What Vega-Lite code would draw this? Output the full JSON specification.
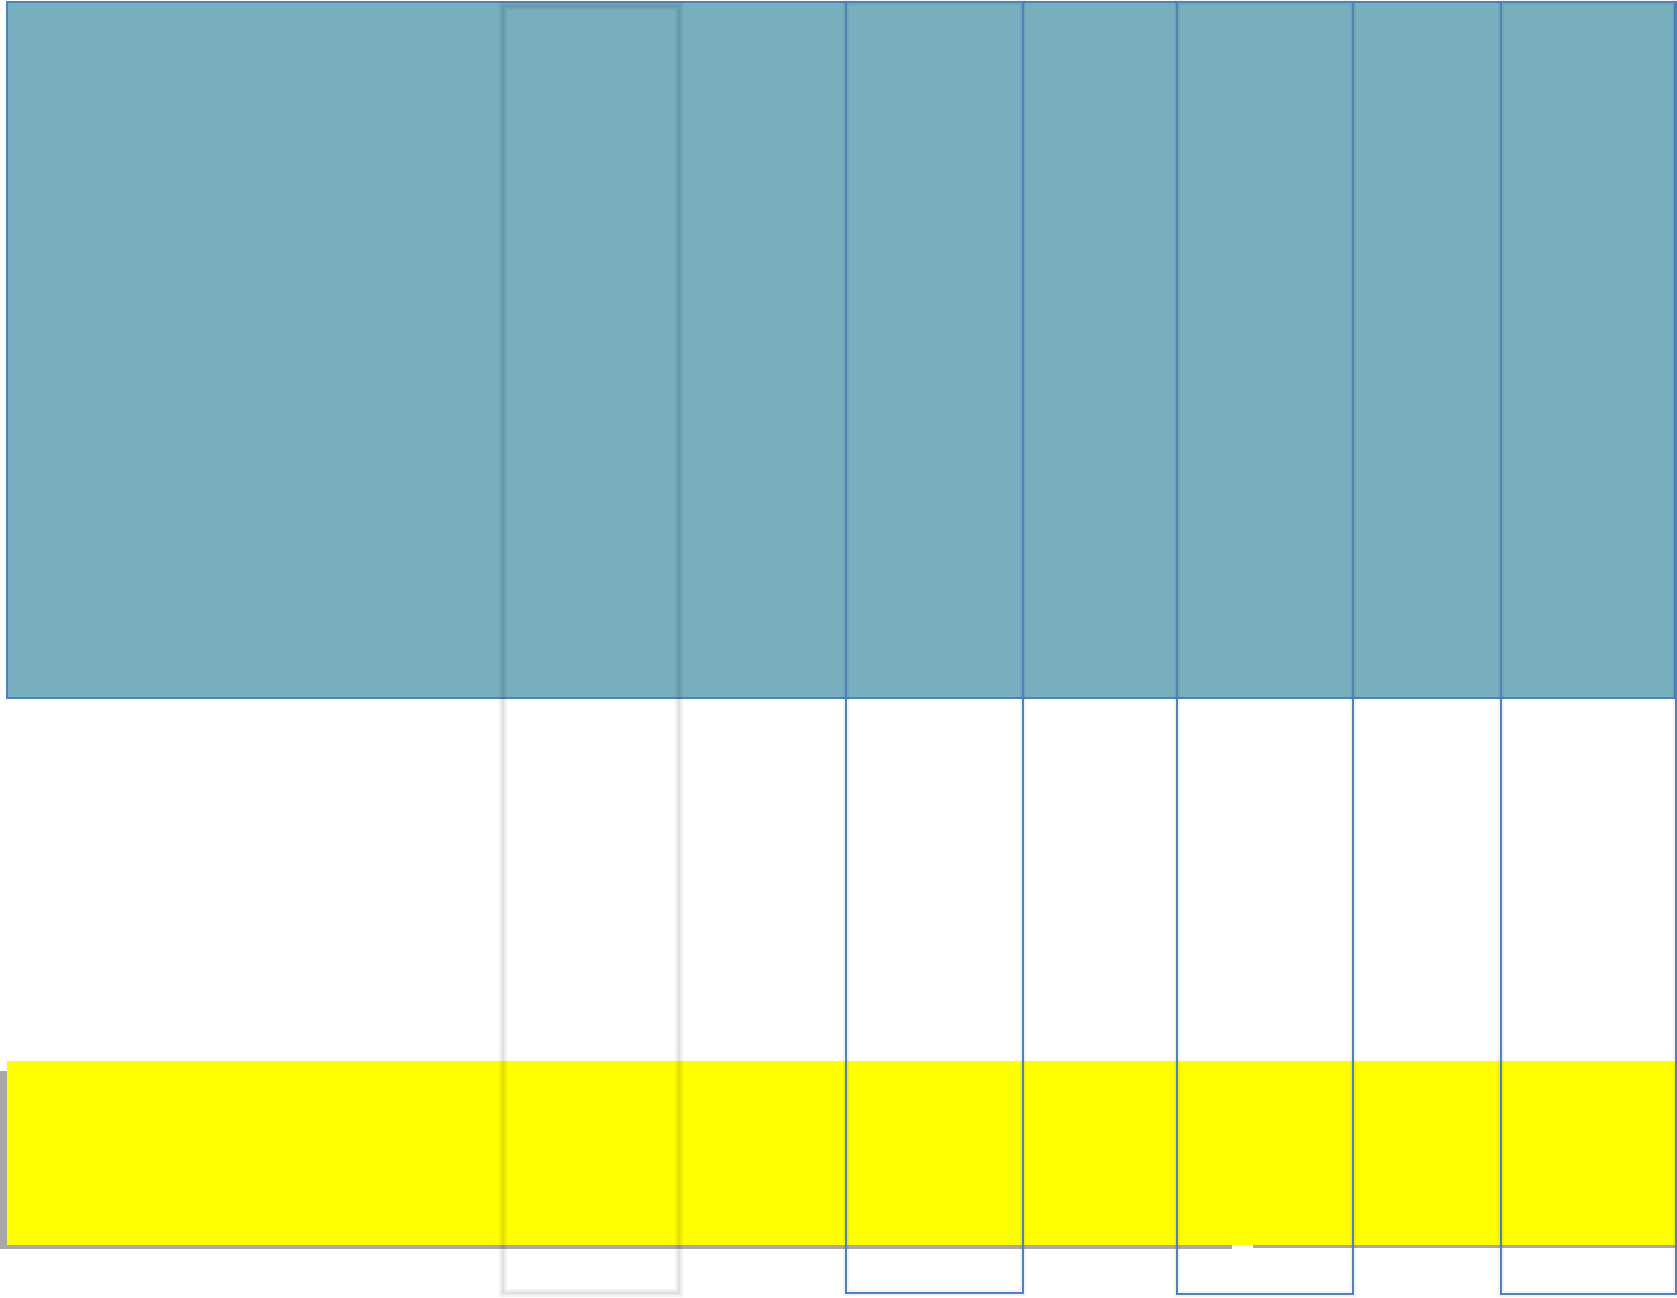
{
  "$schema": "https://vega.github.io/schema/vega-lite/v6.json",
  "width": 1677,
  "height": 1298,
  "padding": 0,
  "autosize": {"type": "none"},
  "background": "white",
  "config": {"view": {"stroke": null}},
  "data": {"values": [
    {"kind": "shadow", "x1": 0, "x2": 1232, "y1": 1071, "y2": 1249},
    {"kind": "shadow", "x1": 1253, "x2": 1675, "y1": 1240, "y2": 1248},
    {"kind": "teal", "x1": 7, "x2": 1675, "y1": 2, "y2": 698},
    {"kind": "yellow", "x1": 7, "x2": 1676, "y1": 1061, "y2": 1245},
    {"kind": "ghost", "x1": 503, "x2": 679, "y1": 6, "y2": 1293},
    {"kind": "blue", "x1": 846, "x2": 1023, "y1": 2, "y2": 1293},
    {"kind": "blue", "x1": 1177, "x2": 1353, "y1": 2, "y2": 1294},
    {"kind": "blue", "x1": 1501, "x2": 1676, "y1": 2, "y2": 1294}
  ]},
  "encoding": {
    "x": {"field": "x1", "type": "quantitative", "scale": {"domain": [0, 1677], "nice": false, "zero": false}, "axis": null},
    "x2": {"field": "x2"},
    "y": {"field": "y1", "type": "quantitative", "scale": {"domain": [0, 1298], "nice": false, "zero": false, "reverse": true}, "axis": null},
    "y2": {"field": "y2"}
  },
  "layer": [
    {"transform": [{"filter": "datum.kind == 'shadow'"}], "mark": {"type": "rect", "fill": "#a8a8a8", "stroke": null}},
    {"transform": [{"filter": "datum.kind == 'teal'"}], "mark": {"type": "rect", "fill": "#78AFBE", "stroke": "#4F81BD", "strokeWidth": 2}},
    {"transform": [{"filter": "datum.kind == 'yellow'"}], "mark": {"type": "rect", "fill": "#FFFF00", "stroke": null}},
    {"transform": [{"filter": "datum.kind == 'ghost'"}], "mark": {"type": "rect", "fill": null, "stroke": "#000000", "strokeOpacity": 0.05, "strokeWidth": 8}},
    {"transform": [{"filter": "datum.kind == 'ghost'"}], "mark": {"type": "rect", "fill": null, "stroke": "#000000", "strokeOpacity": 0.07, "strokeWidth": 3}},
    {"transform": [{"filter": "datum.kind == 'blue'"}], "mark": {"type": "rect", "fill": null, "stroke": "#000000", "strokeOpacity": 0.05, "strokeWidth": 6}},
    {"transform": [{"filter": "datum.kind == 'blue'"}], "mark": {"type": "rect", "fill": null, "stroke": "#4F81BD", "strokeWidth": 2}}
  ]
}
